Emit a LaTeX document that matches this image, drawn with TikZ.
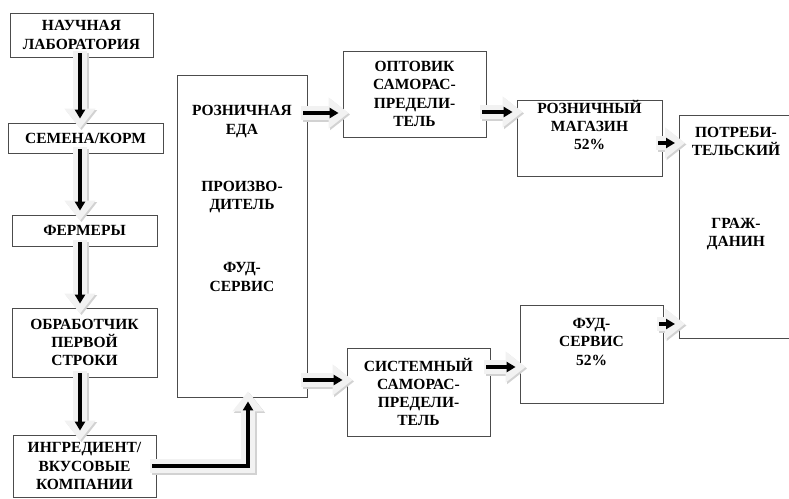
\documentclass[tikz,border=0pt]{standalone}
\usepackage{fontspec}
\setmainfont{Liberation Serif}
\usetikzlibrary{arrows.meta,calc}
\newcommand{\flow}[1]{%
  \draw[flowshadow] #1;
  \draw[flowbody] #1;
  \draw[flowline] #1;}

\begin{document}
\begin{tikzpicture}[x=1pt,y=-1pt,
    box/.style={draw=black!70, line width=0.8pt, fill=white, align=center, inner sep=0pt,
      font=\bfseries\fontsize{15.5}{18.3}\selectfont},
    boxtext/.style={align=center, inner sep=0pt, font=\bfseries\fontsize{15.5}{18.3}\selectfont},
    flowshadow/.style={line width=14pt, draw=gray!35, transform canvas={shift={(1.5pt,-1.5pt)}},
      shorten <=-6pt, shorten >=-6pt, -{Triangle[length=20pt,width=30pt]}},
    flowbody/.style={line width=14pt, draw=gray!10,
      shorten <=-6pt, shorten >=-6pt, -{Triangle[length=20pt,width=30pt]}},
    flowline/.style={line width=3.5pt, draw=black,
      shorten <=-4pt, shorten >=4pt, -{Triangle[length=9pt,width=10pt]}}]
  \clip (0,0) rectangle (789,498);

  %%%%% boxes %%%%%
  \node[box, minimum width=143, minimum height=44] (lab) at (81.5,35) {НАУЧНАЯ\\ЛАБОРАТОРИЯ};
  \node[box, minimum width=155, minimum height=30] (seed) at (85.5,138) {СЕМЕНА/КОРМ};
  \node[box, minimum width=145, minimum height=31] (farm) at (84.5,230.5) {ФЕРМЕРЫ};
  \node[box, minimum width=145, minimum height=69] (proc) at (84.5,342.5) {ОБРАБОТЧИК\\ПЕРВОЙ\\СТРОКИ};
  \node[box, minimum width=143, minimum height=62] (ingr) at (84.5,466) {ИНГРЕДИЕНТ/\\ВКУСОВЫЕ\\КОМПАНИИ};

  \node[box, minimum width=130, minimum height=322] (big) at (242,236) {};
  \node[boxtext] (bigtop) at (242,121.5) {РОЗНИЧНАЯ\\ЕДА};
  \node[boxtext] (bigmid) at (242,197) {ПРОИЗВО-\\ДИТЕЛЬ};
  \node[boxtext] (bigbot) at (242,277) {ФУД-\\СЕРВИС};

  \node[box, minimum width=143, minimum height=86] (opt) at (414.5,94) {ОПТОВИК\\САМОРАС-\\ПРЕДЕЛИ-\\ТЕЛЬ};
  \node[box, minimum width=143, minimum height=88] (sys) at (418.5,392) {СИСТЕМНЫЙ\\САМОРАС-\\ПРЕДЕЛИ-\\ТЕЛЬ};

  \node[box, minimum width=145, minimum height=76] (rozn) at (589.5,138) {};
  \node[boxtext] (rozntext) at (589.5,125) {РОЗНИЧНЫЙ\\МАГАЗИН\\52\%};
  \node[box, minimum width=143, minimum height=98] (fud) at (591.5,354) {};
  \node[boxtext] (fudtext) at (591.5,342) {ФУД-\\СЕРВИС\\52\%};

  \node[box, anchor=west, minimum width=140, minimum height=223] (cons) at (679,226.5) {};
  \node[boxtext] (constop) at (736,141.5) {ПОТРЕБИ-\\ТЕЛЬСКИЙ};
  \node[boxtext] (consbot) at (736,234) {ГРАЖ-\\ДАНИН};

  %%%%% arrows %%%%%
  \coordinate (col) at (80,0);
  \coordinate (rise) at (248,0);
  \coordinate (in1) at ([yshift=-19pt]opt.west);
  \coordinate (in2) at ([yshift=12pt]sys.west);
  \coordinate (in3) at ([yshift=26pt]rozn.west);
  \coordinate (in4) at ([yshift=-13pt]fud.west);
  \coordinate (in5) at ([yshift=83.5pt]cons.west);
  \coordinate (in6) at ([yshift=-97.5pt]cons.west);

  \flow{(col |- lab.south) -- (col |- seed.north)}
  \flow{(col |- seed.south) -- (col |- farm.north)}
  \flow{(col |- farm.south) -- (col |- proc.north)}
  \flow{(col |- proc.south) -- (col |- ingr.north)}
  \flow{(ingr.east) -| (rise |- big.south)}

  \flow{(big.east |- in1) -- (in1)}
  \flow{(big.east |- in2) -- (in2)}
  \flow{(opt.east |- in3) -- (in3)}
  \flow{(sys.east |- in4) -- (in4)}
  \flow{(rozn.east |- in5) -- (in5)}
  \flow{(fud.east |- in6) -- (in6)}
\end{tikzpicture}
\end{document}
